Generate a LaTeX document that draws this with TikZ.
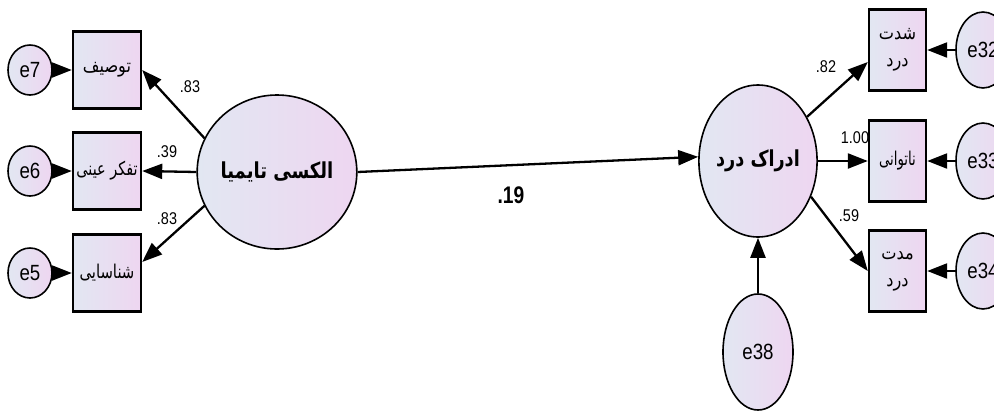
\documentclass[tikz,border=0pt]{standalone}
\usepackage{fontspec}
\usepackage{graphicx}
\setmainfont{Liberation Sans}
\newfontfamily\fa[Script=Arabic]{DejaVu Sans}
\TeXXeTstate=1
\usetikzlibrary{shapes.geometric,arrows.meta,calc}
\definecolor{fillA}{RGB}{226,231,242}
\definecolor{fillB}{RGB}{238,214,241}
\newcommand{\nx}[2][0.85]{\scalebox{#1}[1]{#2}}
\tikzset{
  shade/.style={left color=fillA, right color=fillB},
  latent/.style={ellipse, draw, line width=1.6pt, shade, inner sep=0pt},
  errv/.style={ellipse, draw, line width=1.6pt, shade, inner sep=0pt, font=\fontsize{22}{22}\selectfont},
  obsv/.style={rectangle, draw, line width=2.4pt, shade, inner sep=0pt, align=center},
  arr/.style={line width=2.3pt, -{Triangle[length=20pt,width=15pt]}},
  num/.style={font=\fontsize{17}{17}\selectfont, inner sep=0pt},
  falab/.style={font=\fa\fontsize{19}{27}\selectfont}
}
\begin{document}
\begin{tikzpicture}[x=1pt,y=-1pt]
\useasboundingbox (0,0) rectangle (994,416);
% latent variables
\node[latent, minimum width=134pt, minimum height=154pt] (lat) at (277,172)
  {\fa\bfseries\fontsize{22}{22}\selectfont\nx[0.82]{\beginR الکسی تایمیا\endR}};
\node[latent, minimum width=116pt, minimum height=152pt] (pain) at (758,161)
  {\fa\bfseries\fontsize{22}{22}\selectfont\nx[0.8]{\beginR ادراک درد\endR}};
\node[errv, minimum width=70pt, minimum height=116pt] (e38) at (758,352) {\nx{e38}};
% left observed
\node[obsv, falab, minimum width=68pt, minimum height=77pt] (b1) at (107,70) {\nx[0.85]{\beginR توصیف\endR}};
\node[obsv, falab, minimum width=68pt, minimum height=77pt] (b2) at (107,171) {\nx[0.76]{\beginR تفکر عینی\endR}};
\node[obsv, falab, minimum width=68pt, minimum height=77pt] (b3) at (107,273) {\nx[0.78]{\beginR شناسایی\endR}};
\node[errv, minimum width=44pt, minimum height=50pt] (e7) at (30,70) {\nx{e7}};
\node[errv, minimum width=44pt, minimum height=50pt] (e6) at (30,171) {\nx{e6}};
\node[errv, minimum width=44pt, minimum height=50pt] (e5) at (30,273) {\nx{e5}};
% right observed
\node[obsv, falab, minimum width=57pt, minimum height=81pt] (r1) at (897.5,50) {\nx[0.85]{\beginR شدت\endR}\\\nx[0.85]{\beginR درد\endR}};
\node[obsv, falab, minimum width=57pt, minimum height=81pt] (r2) at (897.5,161) {\nx[0.7]{\beginR ناتوانی\endR}};
\node[obsv, falab, minimum width=57pt, minimum height=81pt] (r3) at (897.5,271) {\nx[0.85]{\beginR مدت\endR}\\\nx[0.85]{\beginR درد\endR}};
\node[errv, minimum width=54pt, minimum height=76pt] (e32) at (983,50) {\nx{e32}};
\node[errv, minimum width=54pt, minimum height=76pt] (e33) at (983,161) {\nx{e33}};
\node[errv, minimum width=54pt, minimum height=76pt] (e34) at (983,271) {\nx{e34}};
% paths
\draw[arr] (lat.155) -- (b1.east);
\draw[arr] (lat.180) -- (b2.east);
\draw[arr] (lat.205) -- ([yshift=11pt]b3.east);
\draw[arr] (e7.east) -- (b1.west);
\draw[arr] (e6.east) -- (b2.west);
\draw[arr] (e5.east) -- (b3.west);
\draw[arr] (lat.east) -- (pain.176);
\draw[arr] (pain.42) -- ([yshift=-12pt]r1.west);
\draw[arr] (pain.0) -- (r2.west);
\draw[arr] (pain.-34) -- (r3.west);
\draw[arr] (e32.west) -- (r1.east);
\draw[arr] (e33.west) -- (r2.east);
\draw[arr] (e34.west) -- (r3.east);
\draw[arr] (e38.north) -- (pain.south);
% labels
\node[num] (l1) at (190,87) {\nx{.83}};
\node[num] (l2) at (167,152) {\nx{.39}};
\node[num] (l3) at (167,219) {\nx{.83}};
\node[num] (l4) at (826,67) {\nx{.82}};
\node[num] (l5) at (855,138) {\nx{1.00}};
\node[num] (l6) at (849,216) {\nx{.59}};
\node[inner sep=0pt, font=\bfseries\fontsize{24}{24}\selectfont] (l7) at (511,195) {\nx[0.8]{.19}};
\end{tikzpicture}
\end{document}
